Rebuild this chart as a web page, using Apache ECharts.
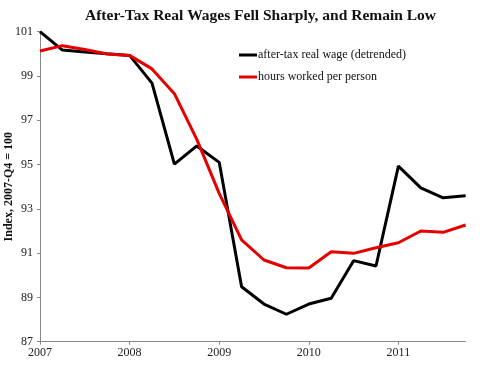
<!DOCTYPE html>
<html>
<head>
<meta charset="utf-8">
<script src="https://cdn.jsdelivr.net/npm/echarts@6/dist/echarts.min.js"></script>
<style>html,body{margin:0;padding:0;background:#fff}#c{width:480px;height:369px}</style>
</head>
<body>
<div id="c"></div>
<script>
const quarters = ['2007 Q1','2007 Q2','2007 Q3','2007 Q4','2008 Q1','2008 Q2','2008 Q3','2008 Q4',
  '2009 Q1','2009 Q2','2009 Q3','2009 Q4','2010 Q1','2010 Q2','2010 Q3','2010 Q4',
  '2011 Q1','2011 Q2','2011 Q3','2011 Q4'];
const wage = [101.0, 100.17, 100.08, 100.0, 99.93, 98.68, 95.02, 95.84, 95.1, 89.48,
  88.7, 88.24, 88.7, 88.96, 90.66, 90.42, 94.93, 93.95, 93.5, 93.59];
const hours = [100.13, 100.37, 100.2, 99.99, 99.93, 99.32, 98.2, 96.14, 93.7, 91.6,
  90.69, 90.34, 90.33, 91.06, 90.99, 91.24, 91.47, 92.0, 91.94, 92.27];
const yTicks = {min: 87, max: 101, interval: 2};

const serif = '"Liberation Serif", "Times New Roman", serif';
const chart = echarts.init(document.getElementById('c'));
chart.setOption({
  animation: false,
  title: {
    text: 'After-Tax Real Wages Fell Sharply, and Remain Low',
    left: 80, top: 3,
    textStyle: {fontFamily: serif, fontWeight: 'bold', fontSize: 15.5, color: '#111'}
  },
  legend: {
    orient: 'vertical', left: 239, top: 49, itemGap: 10, padding: 0,
    icon: 'rect', itemWidth: 18, itemHeight: 3,
    textStyle: {fontFamily: serif, fontSize: 12, color: '#111', padding: [0, 0, 0, -4]},
    data: ['after-tax real wage (detrended)', 'hours worked per person']
  },
  grid: {left: 40, right: 14.4, top: 31.7, bottom: 27.3, containLabel: false, outerBoundsMode: 'none'},
  xAxis: {
    type: 'category', data: quarters, boundaryGap: false,
    axisLine: {lineStyle: {color: '#888', width: 1}},
    axisTick: {interval: 3, length: 3, lineStyle: {color: '#888'}},
    axisLabel: {interval: 3, margin: 5, fontFamily: serif, fontSize: 12, color: '#222',
      formatter: v => v.slice(0, 4)},
    splitLine: {show: false}
  },
  yAxis: {
    type: 'value', min: yTicks.min, max: yTicks.max, interval: yTicks.interval,
    name: 'Index, 2007-Q4 = 100', nameLocation: 'middle', nameGap: 25, nameMoveOverlap: false,
    nameTextStyle: {fontFamily: serif, fontWeight: 'bold', fontSize: 12, color: '#111'},
    axisLine: {show: true, lineStyle: {color: '#888', width: 1}},
    axisTick: {show: true, length: 3, lineStyle: {color: '#888'}},
    axisLabel: {margin: 7, fontFamily: serif, fontSize: 12, color: '#222'},
    splitLine: {show: false}
  },
  series: [
    {name: 'after-tax real wage (detrended)', type: 'line', data: wage, showSymbol: false,
      symbol: 'none', lineStyle: {color: '#000', width: 3}, itemStyle: {color: '#000'}},
    {name: 'hours worked per person', type: 'line', data: hours, showSymbol: false,
      symbol: 'none', lineStyle: {color: '#e60000', width: 3}, itemStyle: {color: '#e60000'}}
  ]
});
</script>
</body>
</html>
